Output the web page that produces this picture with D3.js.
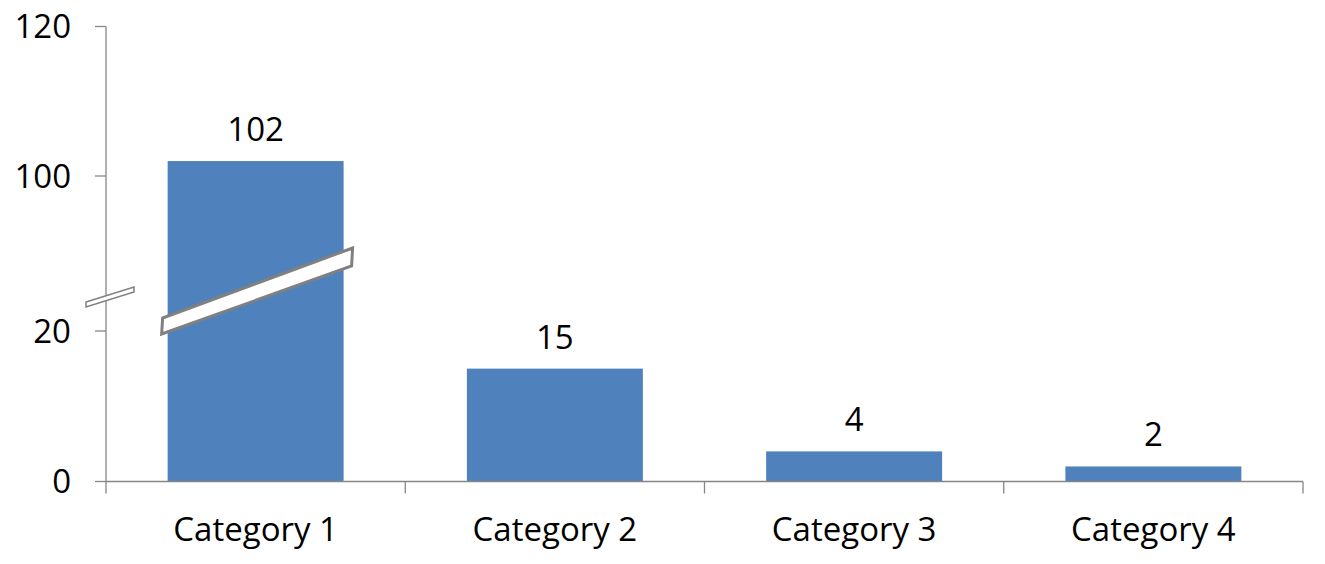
<!DOCTYPE html>
<html>
<head>
<meta charset="utf-8">
<script src="https://cdn.jsdelivr.net/npm/d3@7"></script>
<style>
  html, body { margin: 0; padding: 0; background: #fff; }
  text { font-family: "Open Sans", "Noto Sans", sans-serif; fill: #000; }
</style>
</head>
<body>
<svg id="chart"></svg>
<script>
// data
const categories = ["Category 1", "Category 2", "Category 3", "Category 4"];
const values = [102, 15, 4, 2];
// broken axis: 0-20 below the break, 100-120 above it
const yTicks = [0, 20, 100, 120];

const width = 1325;
const height = 564;
const axisColor = "#868686";
const barColor = "#4F81BD";
const fontSize = 33;

const svg = d3.select("#chart")
  .attr("width", width)
  .attr("height", height);

// piecewise scale gives the axis break
const y = d3.scaleLinear()
  .domain(yTicks)
  .range([481.5, 331, 176, 26.5]);

const x = d3.scaleBand()
  .domain(categories)
  .range([106, 1303])
  .paddingInner(0.412)
  .paddingOuter(0.206);

// --- y axis ---
const yAxis = svg.append("g");
yAxis.append("line")
  .attr("x1", x.range()[0]).attr("x2", x.range()[0])
  .attr("y1", y(120)).attr("y2", y(0))
  .attr("stroke", axisColor).attr("stroke-width", 1.3);

yAxis.selectAll(".tick")
  .data(yTicks)
  .join("line")
  .attr("x1", x.range()[0] - 11).attr("x2", x.range()[0])
  .attr("y1", d => y(d)).attr("y2", d => y(d))
  .attr("stroke", axisColor).attr("stroke-width", 1.3);

yAxis.selectAll("text")
  .data(yTicks)
  .join("text")
  .attr("x", 71)
  .attr("y", d => y(d))
  .attr("dy", "0.36em")
  .attr("text-anchor", "end")
  .style("font-size", fontSize + "px")
  .text(d => d);

// --- bars ---
svg.append("g")
  .selectAll("rect")
  .data(values)
  .join("rect")
  .attr("x", (d, i) => x(categories[i]))
  .attr("width", x.bandwidth())
  .attr("y", d => y(d))
  .attr("height", d => y(0) - y(d))
  .attr("fill", barColor);

// value labels
svg.append("g")
  .selectAll("text")
  .data(values)
  .join("text")
  .attr("x", (d, i) => x(categories[i]) + x.bandwidth() / 2)
  .attr("y", d => y(d) - 20)
  .attr("text-anchor", "middle")
  .style("font-size", fontSize + "px")
  .text(d => d);

// --- x axis ---
const xAxis = svg.append("g");
xAxis.append("line")
  .attr("x1", x.range()[0]).attr("x2", x.range()[1])
  .attr("y1", y(0)).attr("y2", y(0))
  .attr("stroke", axisColor).attr("stroke-width", 1.3);

// ticks between categories
const boundaries = d3.range(categories.length + 1).map(i => x.range()[0] + i * x.step());
xAxis.selectAll(".xtick")
  .data(boundaries)
  .join("line")
  .attr("x1", d => d).attr("x2", d => d)
  .attr("y1", y(0)).attr("y2", y(0) + 12)
  .attr("stroke", axisColor).attr("stroke-width", 1.3);

xAxis.selectAll("text")
  .data(categories)
  .join("text")
  .attr("x", d => x(d) + x.bandwidth() / 2)
  .attr("y", 541)
  .attr("text-anchor", "middle")
  .style("font-size", fontSize + "px")
  .text(d => d);

// --- break symbols ---
const breakStyle = sel => sel
  .attr("fill", "#fff")
  .attr("stroke", "#808080")
  .attr("stroke-width", 3)
  .attr("stroke-linejoin", "miter");

// across the tall bar
const b0 = x(categories[0]);
const b1 = b0 + x.bandwidth();
const y20 = y(20);
svg.append("polygon")
  .attr("points", [
    [b0 - 5, y20 - 13],
    [b1 + 9, y20 - 83],
    [b1 + 8, y20 - 65],
    [b0 - 6, y20 + 3]
  ].map(p => p.join(",")).join(" "))
  .call(breakStyle);

// on the value axis
const ax = x.range()[0];
svg.append("polygon")
  .attr("points", [
    [ax - 20, y20 - 29],
    [ax + 28, y20 - 44],
    [ax + 28, y20 - 39],
    [ax - 20, y20 - 24]
  ].map(p => p.join(",")).join(" "))
  .attr("fill", "#fff")
  .attr("stroke", "#808080")
  .attr("stroke-width", 1.5);
</script>
</body>
</html>
